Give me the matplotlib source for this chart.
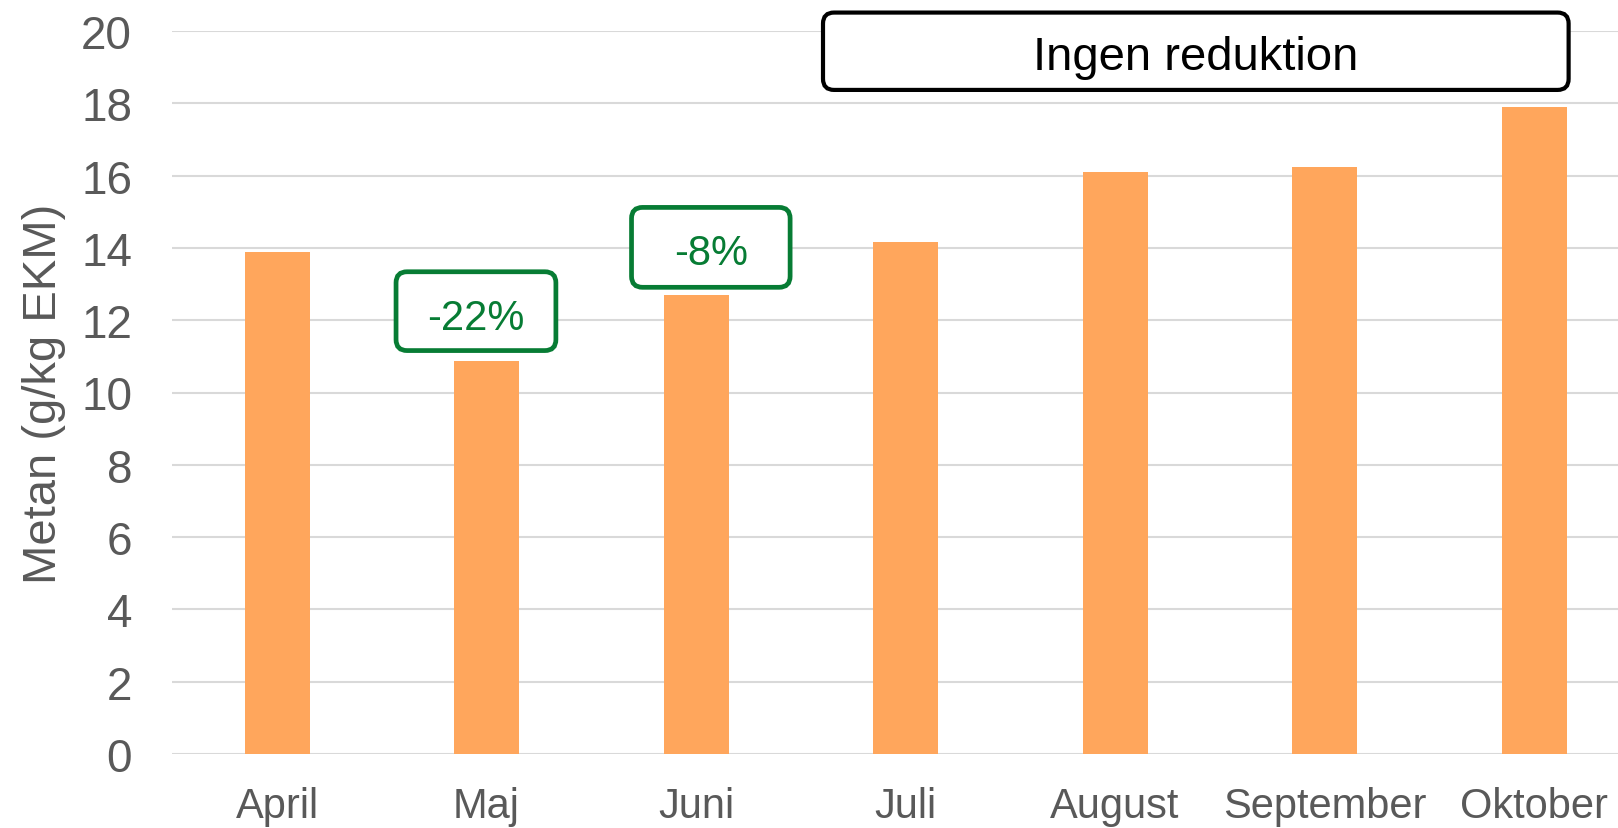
import matplotlib
matplotlib.use("Agg")
import matplotlib.pyplot as plt
from matplotlib.patches import FancyBboxPatch

plt.rcParams['font.family'] = ['Liberation Sans', 'DejaVu Sans']

months = ["April", "Maj", "Juni", "Juli", "August", "September", "Oktober"]
methane = [13.88, 10.86, 12.70, 14.17, 16.10, 16.25, 17.91]
yticks = [0, 2, 4, 6, 8, 10, 12, 14, 16, 18, 20]
ylabel = "Metan (g/kg EKM)"

bar_color = "#FFA65C"
green = "#077C34"
grey_text = "#595959"
grid_color = "#D9D9D9"

W, H, DPI = 1618, 829, 100
fig = plt.figure(figsize=(W / DPI, H / DPI), dpi=DPI)
left = 172.3 / W
right = (172.3 + 7 * 209.5) / W
bottom = 74 / H
top = (829 - 32) / H
ax = fig.add_axes([left, bottom, right - left, top - bottom])

x = list(range(len(months)))
ax.bar(x, methane, width=0.31, color=bar_color, zorder=3)

ax.set_xlim(-0.5, 6.5)
ax.set_ylim(0, 20)
ax.set_yticks(yticks)
ax.set_xticks(x)
ax.set_xticklabels(months)
ax.tick_params(axis='x', length=0, pad=23, labelsize=30, labelcolor=grey_text)
ax.tick_params(axis='y', length=0, pad=29, labelsize=33, labelcolor=grey_text)
ax.grid(axis='y', color=grid_color, linewidth=1.5, zorder=0)
ax.set_axisbelow(True)
for s in ax.spines.values():
    s.set_visible(False)
ax.set_ylabel(ylabel, fontsize=34, color=grey_text, labelpad=11)

# pixel -> data scale for rounded boxes
xu = 209.5
yu = 36.15
r_px = 11
aspect = (r_px / yu) / (r_px / xu)


def rbox(x0, x1, y0, y1, ec, lw):
    p = FancyBboxPatch((x0, y0), x1 - x0, y1 - y0,
                       boxstyle=f"round,pad=0,rounding_size={r_px / xu}",
                       mutation_aspect=aspect, fc="white", ec=ec, lw=lw,
                       transform=ax.transData, clip_on=False, zorder=5)
    ax.add_patch(p)


rbox(0.568, 1.331, 11.16, 13.34, green, 3.4)
ax.text(0.95, 12.06, "-22%", color=green, fontsize=30, ha='center', va='center', zorder=6)
rbox(1.692, 2.449, 12.91, 15.12, green, 3.4)
ax.text(2.07, 13.85, "-8%", color=green, fontsize=30, ha='center', va='center', zorder=6)
rbox(2.606, 6.165, 18.37, 20.51, "black", 3.0)
ax.text(4.385, 19.28, "Ingen reduktion", color="black", fontsize=34, ha='center', va='center',
        zorder=6, clip_on=False)

fig.savefig("out.png", dpi=DPI)
